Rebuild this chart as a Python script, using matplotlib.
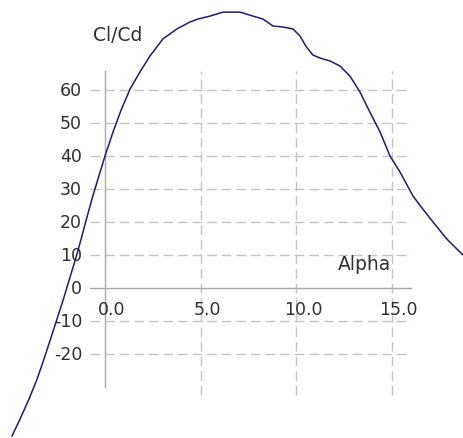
import matplotlib
matplotlib.use("Agg")
import matplotlib.pyplot as plt

# Data (Alpha in degrees, Cl/Cd)
alpha = [-4.86, -4.44, -3.97, -3.55, -3.19, -2.85, -2.51, -2.17, -1.86, -1.54,
         -1.25, -0.97, -0.68, -0.37, 0.0, 0.42, 0.84, 1.31, 1.83, 2.35,
         3.03, 3.76, 4.44, 4.86, 5.49, 6.17, 7.06, 7.74, 8.26, 8.78,
         9.30, 9.83, 10.19, 10.50, 10.87, 11.24, 11.76, 12.28, 12.81, 13.33,
         13.85, 14.38, 14.90, 15.42, 16.10, 16.62, 17.15, 17.88, 18.56, 18.77]
cl_cd = [-44.8, -39.7, -33.6, -27.6, -21.5, -15.5, -9.4, -3.3, 2.7, 8.8,
         14.8, 20.9, 27.0, 33.0, 40.0, 47.3, 53.9, 60.3, 65.5, 70.3,
         75.5, 78.5, 80.6, 81.5, 82.4, 83.6, 83.6, 82.4, 81.5, 79.4,
         79.1, 78.5, 76.4, 73.3, 70.6, 69.7, 68.8, 67.3, 64.2, 59.4,
         53.3, 47.3, 40.0, 35.2, 27.9, 23.9, 20.0, 14.8, 10.9, 9.7]

x_ticks = [0.0, 5.0, 10.0, 15.0]
x_tick_labels = ["0.0", "5.0", "10.0", "15.0"]
y_ticks = [-20, -10, 0, 10, 20, 30, 40, 50, 60]
y_tick_labels = ["-20", "-10", "0", "10", "20", "30", "40", "50", "60"]
x_label = "Alpha"
y_label = "Cl/Cd"

fig = plt.figure(figsize=(4.64, 4.39), dpi=100)
ax = fig.add_axes([0, 0, 1, 1])
ax.set_xlim(-5.49, 18.77)
ax.set_ylim(-45.45, 87.58)
ax.axis("off")

grid_col = "#c4c4c4"
axis_col = "#a8a8a8"
dash = (0, (7, 3.5))
gx0, gx1 = -0.8, 16.0
gy0, gy1 = -32.4, 65.7

for yt in y_ticks:
    if yt != 0:
        ax.plot([gx0, gx1], [yt, yt], color=grid_col, lw=1.0, ls=dash, zorder=1)
for xt in x_ticks:
    if xt != 0:
        ax.plot([xt, xt], [gy0, gy1], color=grid_col, lw=1.0, ls=dash, zorder=1)

ax.plot([gx0, gx1], [0, 0], color=axis_col, lw=1.0, zorder=2)
ax.plot([0, 0], [-30.0, gy1], color=axis_col, lw=1.0, zorder=2)

fs = 12.5
for yt, lab in zip(y_ticks, y_tick_labels):
    ax.text(-1.2, yt, lab, ha="right", va="center", fontsize=fs, color="#303030", zorder=3)
for xt, lab in zip(x_ticks, x_tick_labels):
    ax.text(xt + 0.35, -6.4, lab, ha="center", va="center", fontsize=fs, color="#303030", zorder=3)

ax.text(-0.63, 76.7, y_label, ha="left", va="center", fontsize=13.5, color="#303030")
ax.text(12.18, 7.3, x_label, ha="left", va="center", fontsize=13.5, color="#303030")

ax.plot(alpha, cl_cd, color="#1c1c78", lw=1.1, zorder=4, clip_on=False)

fig.savefig("out.png", dpi=100, facecolor="white")
